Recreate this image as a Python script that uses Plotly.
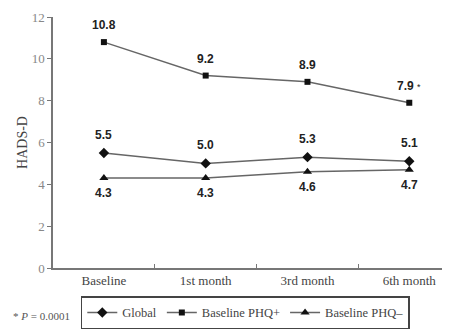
import plotly.graph_objects as go

categories = ["Baseline", "1st month", "3rd month", "6th month"]
global_vals = [5.5, 5.0, 5.3, 5.1]
phq_pos_vals = [10.8, 9.2, 8.9, 7.9]
phq_neg_vals = [4.3, 4.3, 4.6, 4.7]
phq_pos_labels = ["10.8", "9.2", "8.9", "7.9 <span style='font-weight:normal;font-size:9px'>*</span>"]
global_labels = ["5.5", "5.0", "5.3", "5.1"]
phq_neg_labels = ["4.3", "4.3", "4.6", "4.7"]
y_ticks = [0, 2, 4, 6, 8, 10, 12]

line_col = "#666666"
mk_col = "#111111"
lab_font = dict(family="Liberation Sans, Arial", size=12, color="#222222")

fig = go.Figure()
fig.add_trace(go.Scatter(
    x=categories, y=global_vals, name="Global", mode="lines+markers",
    line=dict(color=line_col, width=1.5),
    marker=dict(symbol="diamond", size=8, color=mk_col), cliponaxis=False))
fig.add_trace(go.Scatter(
    x=categories, y=phq_pos_vals, name="Baseline PHQ+", mode="lines+markers",
    line=dict(color=line_col, width=1.5),
    marker=dict(symbol="square", size=6, color=mk_col), cliponaxis=False))
fig.add_trace(go.Scatter(
    x=categories, y=phq_neg_vals, name="Baseline PHQ\u2013", mode="lines+markers",
    line=dict(color=line_col, width=1.5),
    marker=dict(symbol="triangle-up", size=8, color=mk_col), cliponaxis=False))

def add_labels(vals, labels, shift):
    for c, v, t in zip(categories, vals, labels):
        fig.add_annotation(x=c, y=v, text="<b>" + t + "</b>", showarrow=False,
                           yshift=shift, xanchor="center", yanchor="middle",
                           font=lab_font)

add_labels(phq_pos_vals, phq_pos_labels, 17)
add_labels(global_vals, global_labels, 18)
add_labels(phq_neg_vals, phq_neg_labels, -15)

fig.update_layout(
    width=442, height=326,
    margin=dict(l=45, r=0, t=9, b=66),
    paper_bgcolor="white", plot_bgcolor="white",
    font=dict(family="Liberation Serif, Times New Roman", size=12, color="#444444"),
    showlegend=True,
    legend=dict(orientation="h", x=0.07, y=-0.113, xanchor="left", yanchor="top",
                bordercolor="#444444", borderwidth=1.5,
                font=dict(family="Liberation Serif", size=12.5, color="#444444"),
                itemwidth=30, tracegroupgap=0),
    xaxis=dict(range=[-0.5, 3.4], showline=True, linecolor="#777777", linewidth=1.5,
               ticks="inside", ticklen=4, tickcolor="#777777", tickson="boundaries",
               showgrid=False, zeroline=False, fixedrange=True,
               tickfont=dict(family="Liberation Serif", size=13, color="#444444")),
    yaxis=dict(range=[0, 12], tickvals=y_ticks, showline=True, linecolor="#777777", linewidth=1.5,
               ticks="outside", ticklen=4, tickcolor="#777777",
               showgrid=False, zeroline=False,
               title=dict(text="HADS-D", font=dict(family="Liberation Serif", size=14, color="#444444"), standoff=1),
               tickfont=dict(family="Liberation Serif", size=13, color="#888888")),
)
fig.add_annotation(text="* <i>P</i> = 0.0001", xref="paper", yref="paper",
                   x=-0.03, y=-0.19, xanchor="center", yanchor="middle", showarrow=False,
                   font=dict(family="Liberation Serif", size=11, color="#555555"))

fig.write_html("out.html")
